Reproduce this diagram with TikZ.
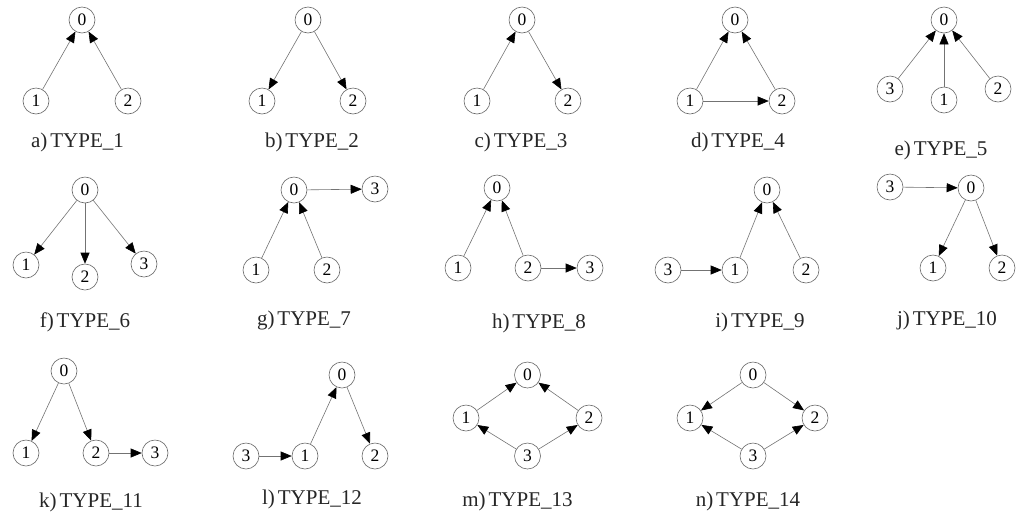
\documentclass[tikz,border=0pt]{standalone}
\usepackage{fontspec}
\setmainfont{Liberation Serif}
\usetikzlibrary{arrows.meta}
\newcommand\cp{)\kern3pt}
\tikzset{
  vtx/.style={circle,draw=black!60,line width=0.6pt,minimum size=26pt,inner sep=0pt,font=\fontsize{17.5}{17.5}\selectfont},
  lbl/.style={anchor=base,font=\fontsize{21}{21}\selectfont,text=black!85},
  conn/.style={draw=black!55,line width=0.6pt,-{Triangle[length=11pt,width=9pt,black]}}
}
\begin{document}
\begin{tikzpicture}[x=1pt,y=-1pt]
\useasboundingbox (0,0) rectangle (1024,523);
% a
\node[vtx] (a0) at (82,20) {0};
\node[vtx] (a1) at (36,101) {1};
\node[vtx] (a2) at (128,101) {2};
\node[lbl] (la) at (77.5,147.5) {a\cp TYPE\_1};
\draw[conn] (a1) -- (a0); \draw[conn] (a2) -- (a0);
% b
\node[vtx] (b0) at (308,20) {0};
\node[vtx] (b1) at (262,101) {1};
\node[vtx] (b2) at (353,101) {2};
\node[lbl] (lb) at (312,147.5) {b\cp TYPE\_2};
\draw[conn] (b0) -- (b1); \draw[conn] (b0) -- (b2);
% c
\node[vtx] (c0) at (522,20) {0};
\node[vtx] (c1) at (477,101) {1};
\node[vtx] (c2) at (568,101) {2};
\node[lbl] (lc) at (521,147.5) {c\cp TYPE\_3};
\draw[conn] (c1) -- (c0); \draw[conn] (c0) -- (c2);
% d
\node[vtx] (d0) at (735,20) {0};
\node[vtx] (d1) at (690,101) {1};
\node[vtx] (d2) at (782,101) {2};
\node[lbl] (ld) at (738,147.5) {d\cp TYPE\_4};
\draw[conn] (d1) -- (d0); \draw[conn] (d2) -- (d0); \draw[conn] (d1) -- (d2);
% e
\node[vtx] (e0) at (944,20) {0};
\node[vtx] (e3) at (890,89) {3};
\node[vtx] (e1) at (944,100) {1};
\node[vtx] (e2) at (998,89) {2};
\node[lbl] (le) at (941,155) {e\cp TYPE\_5};
\draw[conn] (e3) -- (e0); \draw[conn] (e1) -- (e0); \draw[conn] (e2) -- (e0);
% f
\node[vtx] (f0) at (85,190) {0};
\node[vtx] (f1) at (26,265) {1};
\node[vtx] (f2) at (85,277) {2};
\node[vtx] (f3) at (144,264) {3};
\node[lbl] (lf) at (85,327) {f\cp TYPE\_6};
\draw[conn] (f0) -- (f1); \draw[conn] (f0) -- (f2); \draw[conn] (f0) -- (f3);
% g
\node[vtx] (g0) at (294,190) {0};
\node[vtx] (g3) at (375,189) {3};
\node[vtx] (g1) at (256,270) {1};
\node[vtx] (g2) at (327,270) {2};
\node[lbl] (lg) at (304,325) {g\cp TYPE\_7};
\draw[conn] (g1) -- (g0); \draw[conn] (g2) -- (g0); \draw[conn] (g0) -- (g3);
% h
\node[vtx] (h0) at (497,188) {0};
\node[vtx] (h1) at (458,268) {1};
\node[vtx] (h2) at (528,268) {2};
\node[vtx] (h3) at (590,268) {3};
\node[lbl] (lh) at (539,328) {h\cp TYPE\_8};
\draw[conn] (h1) -- (h0); \draw[conn] (h2) -- (h0); \draw[conn] (h2) -- (h3);
% i
\node[vtx] (i0) at (767,190) {0};
\node[vtx] (i3) at (668,270) {3};
\node[vtx] (i1) at (735,270) {1};
\node[vtx] (i2) at (806,270) {2};
\node[lbl] (li) at (760,327) {i\cp TYPE\_9};
\draw[conn] (i1) -- (i0); \draw[conn] (i2) -- (i0); \draw[conn] (i3) -- (i1);
% j
\node[vtx] (j0) at (971,188) {0};
\node[vtx] (j3) at (890,187) {3};
\node[vtx] (j1) at (933,268) {1};
\node[vtx] (j2) at (1002,268) {2};
\node[lbl] (lj) at (947,325) {j\cp TYPE\_10};
\draw[conn] (j3) -- (j0); \draw[conn] (j0) -- (j1); \draw[conn] (j0) -- (j2);
% k
\node[vtx] (k0) at (64,371) {0};
\node[vtx] (k1) at (26,453) {1};
\node[vtx] (k2) at (96,453) {2};
\node[vtx] (k3) at (155,453) {3};
\node[lbl] (lk) at (91,507) {k\cp TYPE\_11};
\draw[conn] (k0) -- (k1); \draw[conn] (k0) -- (k2); \draw[conn] (k2) -- (k3);
% l
\node[vtx] (l0) at (342,375) {0};
\node[vtx] (l3) at (246,456) {3};
\node[vtx] (l1) at (305,456) {1};
\node[vtx] (l2) at (375,456) {2};
\node[lbl] (ll) at (312,504.5) {l\cp TYPE\_12};
\draw[conn] (l3) -- (l1); \draw[conn] (l1) -- (l0); \draw[conn] (l0) -- (l2);
% m
\node[vtx] (m0) at (527.5,375) {0};
\node[vtx] (m1) at (466,418) {1};
\node[vtx] (m2) at (589,418) {2};
\node[vtx] (m3) at (527.5,456) {3};
\node[lbl] (lm) at (517.5,506) {m\cp TYPE\_13};
\draw[conn] (m1) -- (m0); \draw[conn] (m2) -- (m0); \draw[conn] (m3) -- (m1); \draw[conn] (m3) -- (m2);
% n
\node[vtx] (n0) at (753,375) {0};
\node[vtx] (n1) at (690,418) {1};
\node[vtx] (n2) at (815,418) {2};
\node[vtx] (n3) at (753,456) {3};
\node[lbl] (ln) at (748,506) {n\cp TYPE\_14};
\draw[conn] (n0) -- (n1); \draw[conn] (n0) -- (n2); \draw[conn] (n3) -- (n1); \draw[conn] (n3) -- (n2);
\end{tikzpicture}
\end{document}
